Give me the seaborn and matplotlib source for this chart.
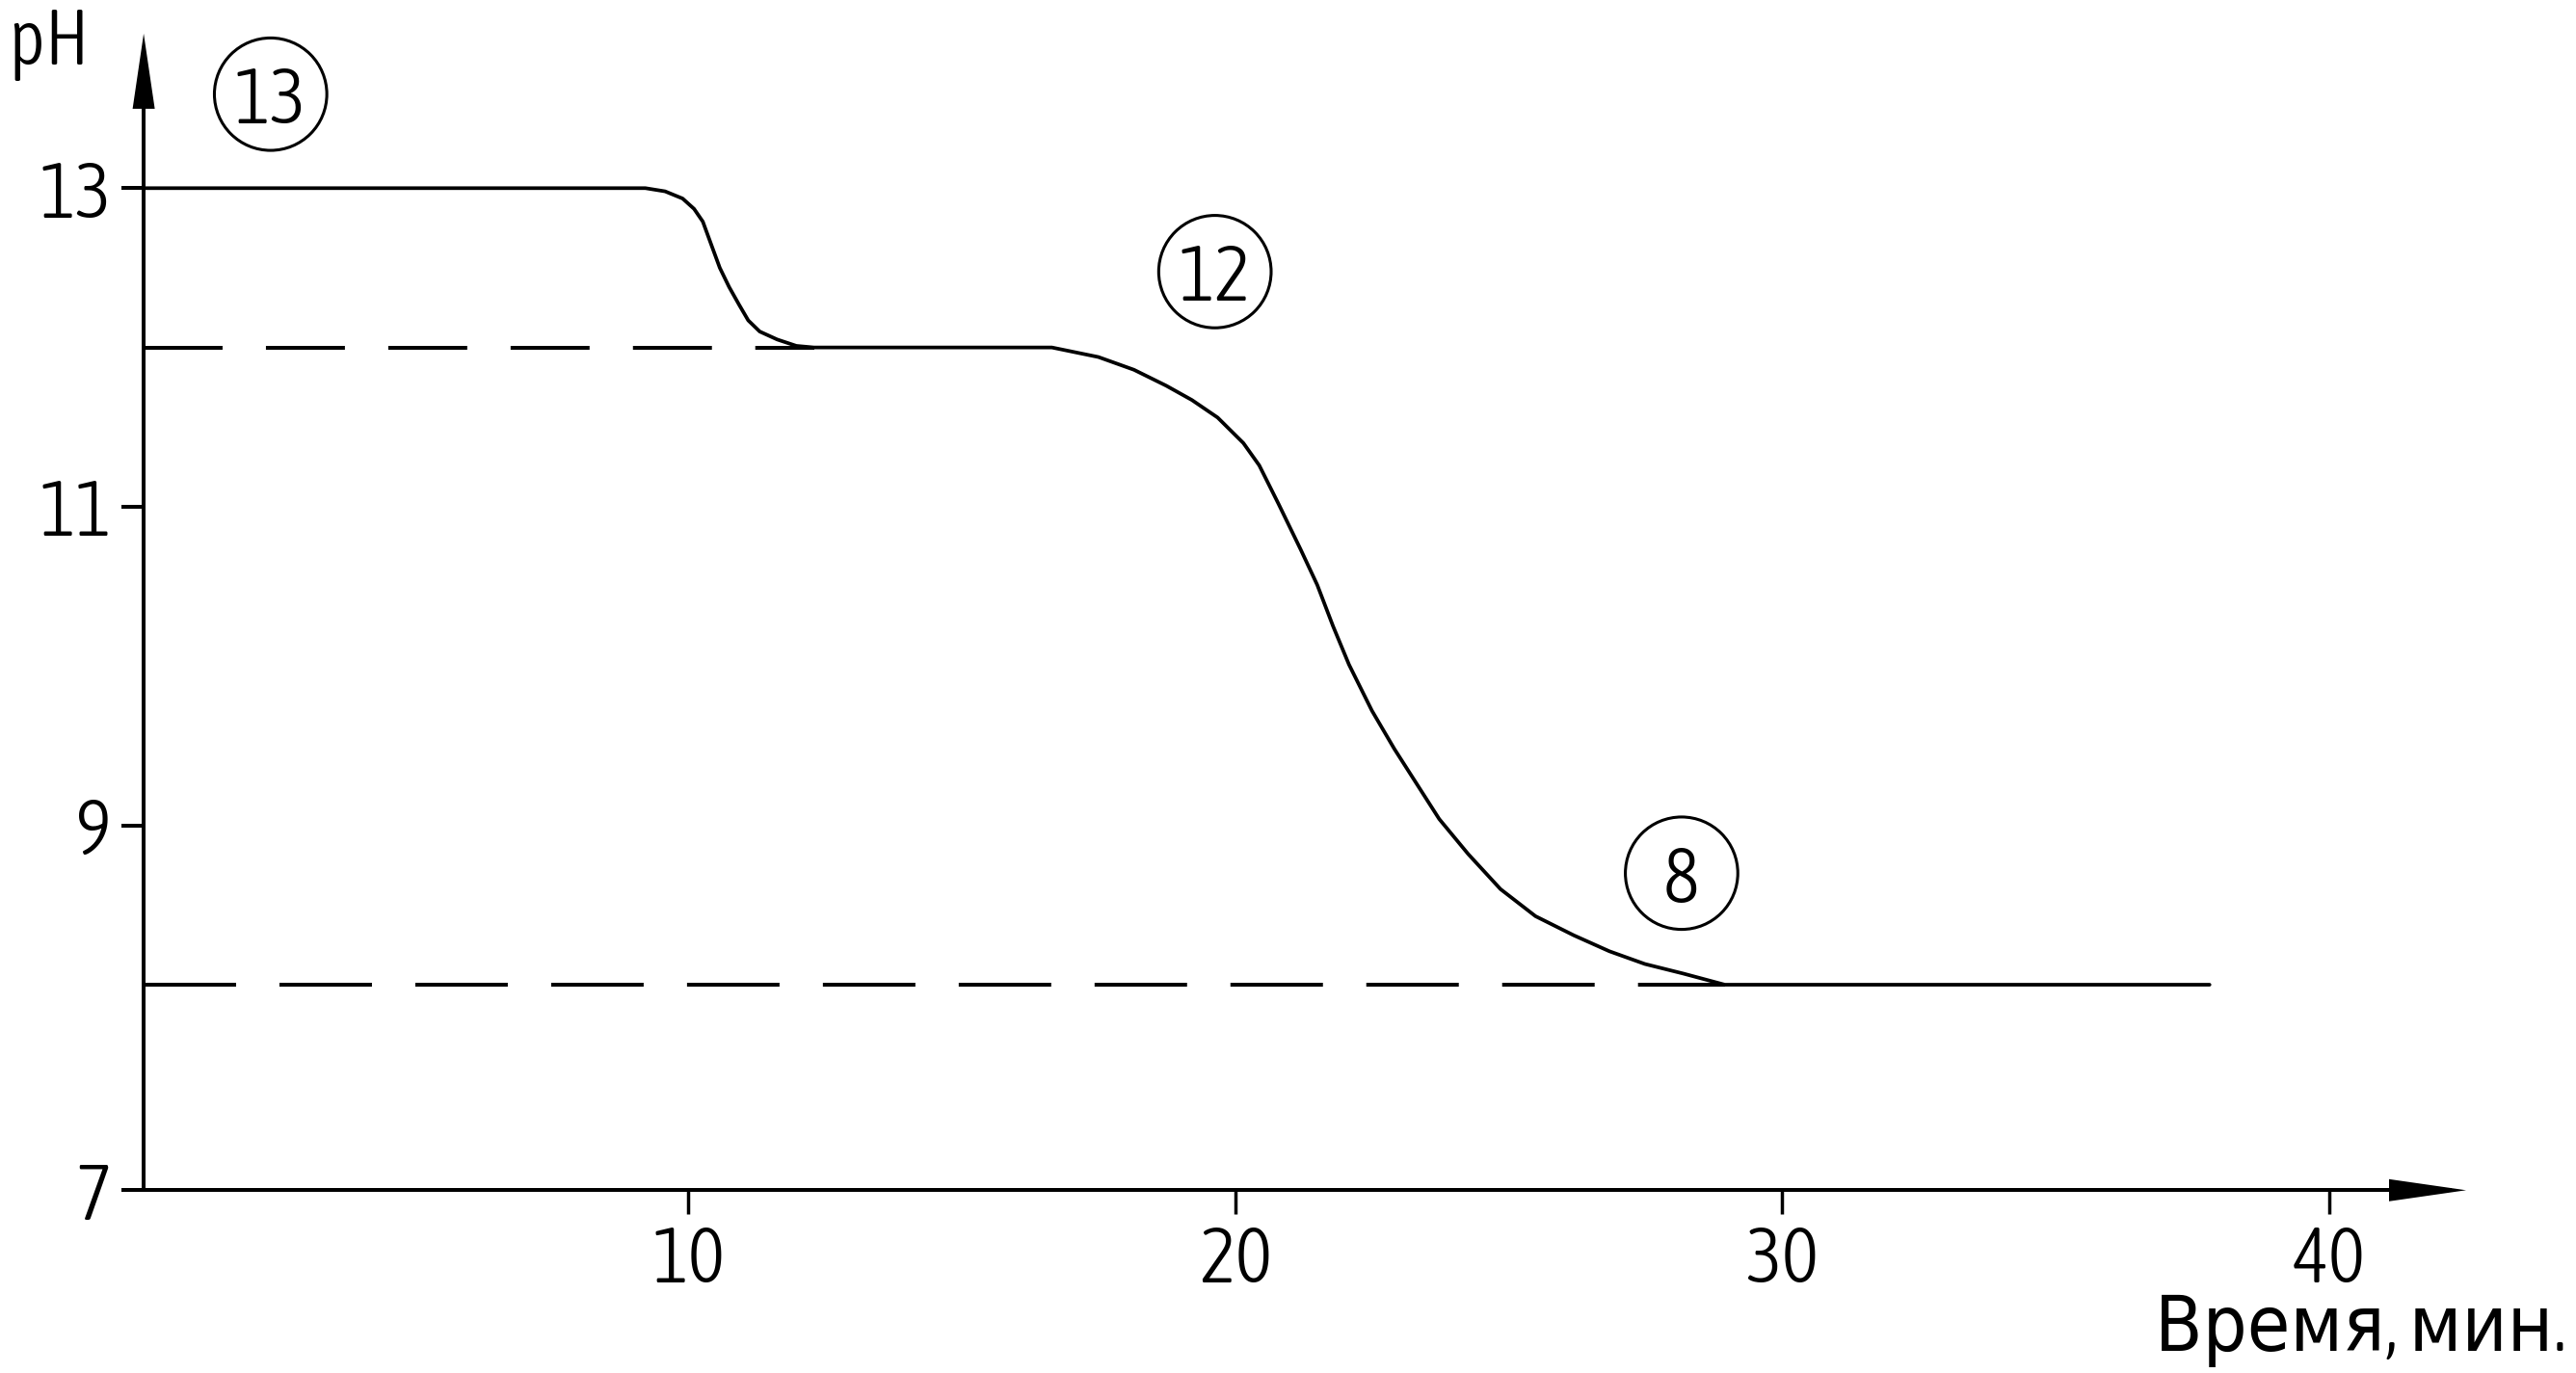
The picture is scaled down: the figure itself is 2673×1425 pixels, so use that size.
import numpy as np
import pandas as pd
import matplotlib
matplotlib.use("Agg")
import matplotlib.pyplot as plt
import seaborn as sns
from matplotlib import font_manager as fm
from matplotlib.patches import Polygon

# ---------------- data ----------------
time_min = [0.0, 9.22, 9.58, 9.90, 10.11, 10.27, 10.43, 10.58, 10.75, 10.93,
            11.10, 11.31, 11.63, 11.98, 12.30, 16.65, 17.50, 18.15, 18.74, 19.21,
            19.68, 20.15, 20.44, 20.79, 21.20, 21.50, 21.79, 22.08, 22.50, 22.91,
            23.32, 23.73, 24.26, 24.85, 25.49, 26.19, 26.84, 27.49, 28.19, 28.95,
            37.81]
ph_values = [13.0, 13.0, 12.98, 12.935, 12.87, 12.79, 12.64, 12.50, 12.38, 12.27,
             12.17, 12.10, 12.05, 12.01, 12.0, 12.0, 11.94, 11.86, 11.76, 11.67,
             11.56, 11.40, 11.26, 11.02, 10.73, 10.51, 10.25, 10.01, 9.72, 9.48,
             9.26, 9.04, 8.82, 8.60, 8.43, 8.31, 8.21, 8.13, 8.07, 8.0,
             8.0]

ref_levels = [12.0, 8.0]          # dashed reference levels
ref_start = [0.05, 0.05]
ref_end = [12.30, 28.95]

callout_labels = ["13", "12", "8"]
callout_x = [2.37, 19.63, 28.16]
callout_y = [13.59, 12.476, 8.70]

x_ticks = [10, 20, 30, 40]
x_tick_labels = ["10", "20", "30", "40"]
y_ticks = [6.71, 9, 11, 13]
y_tick_labels = ["7", "9", "11", "13"]

x_label = "Время, мин."
y_label = "pH"

# ---------------- style ----------------
sns.set_theme(style="ticks")


def _w(f):
    try:
        return int(f.weight)
    except Exception:
        return {"light": 300, "extra light": 200, "ultralight": 200,
                "normal": 400, "regular": 400, "book": 400}.get(str(f.weight).lower(), 400)


def pick_font():
    fl = fm.fontManager.ttflist
    narrow = []
    for f in fl:
        st = str(f.stretch).lower()
        nm = f.name.lower()
        if ("condensed" in st or "narrow" in nm or "condensed" in nm) and f.style == "normal":
            w = _w(f)
            narrow.append((abs(w - 300), w < 300, f.name, f.stretch, w))
    if narrow:
        narrow.sort()
        _, _, name, st, w = narrow[0]
        return name, st, w
    return "DejaVu Sans", "normal", 400


fam, stretch, weight = pick_font()
plt.rcParams["font.family"] = [fam, "DejaVu Sans"]
plt.rcParams["font.stretch"] = stretch
plt.rcParams["font.weight"] = weight
plt.rcParams["lines.scale_dashes"] = False
FS = 58

W, H = 2673, 1425
fig = plt.figure(figsize=(W / 100, H / 100), dpi=100)
fig.patch.set_facecolor("white")

xlim = (0.05, 42.5)
ylim = (6.71, 13.97)
left_px, right_px = 149.1, 2559.0
bottom_px, top_px = 1235.3, 34.9
ax = fig.add_axes([left_px / W, 1 - bottom_px / H,
                   (right_px - left_px) / W, (bottom_px - top_px) / H])
ax.set_facecolor("white")

curve = pd.DataFrame({"t": time_min, "ph": ph_values})
sns.lineplot(data=curve, x="t", y="ph", estimator=None, sort=False,
             color="black", lw=2.7, ax=ax)

dash_patterns = [(59.0, 32.4), (69.1, 32.4)]
for lvl, x0, x1, dp in zip(ref_levels, ref_start, ref_end, dash_patterns):
    d = pd.DataFrame({"t": [x0, x1], "ph": [lvl, lvl]})
    sns.lineplot(data=d, x="t", y="ph", estimator=None, sort=False,
                 color="black", lw=2.88, linestyle=(0, dp), ax=ax)

ax.scatter(callout_x, callout_y, s=84 ** 2, marker="o", facecolors="none",
           edgecolors="black", linewidths=2.2, clip_on=False, zorder=3)
for lab, cx, cy in zip(callout_labels, callout_x, callout_y):
    ax.text(cx, cy, lab, ha="center", va="center_baseline", fontsize=FS,
            color="black", zorder=4)

ax.set_xlim(*xlim)
ax.set_ylim(*ylim)
ax.set_xticks(x_ticks)
ax.set_xticklabels(x_tick_labels)
ax.set_yticks(y_ticks)
ax.set_yticklabels(y_tick_labels)
ax.set_xlabel("")
ax.set_ylabel("")
ax.tick_params(axis="x", direction="out", length=18, width=2.5, pad=7,
               labelsize=FS, colors="black")
ax.tick_params(axis="y", direction="out", length=16.6, width=2.88, pad=7,
               labelsize=FS, colors="black")
for s in ["top", "right"]:
    ax.spines[s].set_visible(False)
for s in ["left", "bottom"]:
    ax.spines[s].set_linewidth(2.88)
    ax.spines[s].set_color("black")
ax.spines["left"].set_bounds(ylim[0], 13.8)
ax.spines["bottom"].set_bounds(xlim[0], 42.2)
ax.grid(False)

# arrow heads (axes-fraction decorations)
axw = right_px - left_px
axh = bottom_px - top_px
xa = Polygon([(1.0, 0.0), (1 - 80 / axw, 11.5 / axh), (1 - 80 / axw, -11.5 / axh)],
             closed=True, transform=ax.transAxes, clip_on=False,
             facecolor="black", edgecolor="none", zorder=5)
ya = Polygon([(0.0, 1.0), (11.5 / axw, 1 - 78 / axh), (-11.5 / axw, 1 - 78 / axh)],
             closed=True, transform=ax.transAxes, clip_on=False,
             facecolor="black", edgecolor="none", zorder=5)
ax.add_patch(xa)
ax.add_patch(ya)

fig.text(8 / W, 1 - 67 / H, y_label, ha="left", va="baseline", fontsize=FS,
         color="black")
fig.text(2663 / W, 1 - 1402 / H, x_label, ha="right", va="baseline", fontsize=FS,
         color="black")

fig.savefig("out.png", dpi=100, facecolor="white")
